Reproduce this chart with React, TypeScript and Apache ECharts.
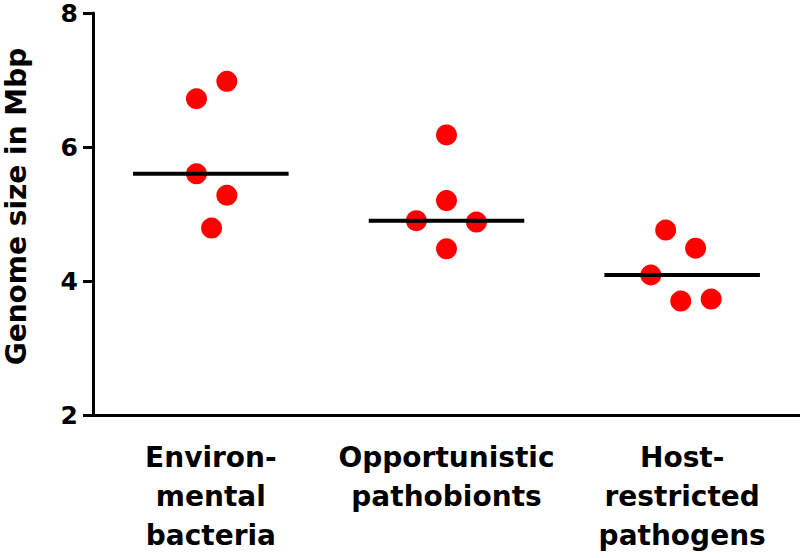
import React, { useEffect, useRef } from "react";
import * as echarts from "echarts";

const categories = ["Environ-\nmental\nbacteria", "Opportunistic\npathobionts", "Host-\nrestricted\npathogens"];
const yTicks = [2, 4, 6, 8];

// genome sizes (Mbp) per group, with horizontal jitter offsets (in category units)
const environmental = [6.98, 6.72, 5.6, 5.28, 4.79];
const environmentalJitter = [0.068, -0.061, -0.061, 0.068, 0.003];
const opportunistic = [6.18, 5.2, 4.9, 4.88, 4.48];
const opportunisticJitter = [0.0, 0.0, -0.128, 0.127, 0.0];
const hostRestricted = [4.76, 4.49, 4.09, 3.7, 3.73];
const hostRestrictedJitter = [-0.07, 0.057, -0.133, -0.006, 0.123];
const medians = [5.6, 4.9, 4.09];

const groups = [
  { values: environmental, jitter: environmentalJitter },
  { values: opportunistic, jitter: opportunisticJitter },
  { values: hostRestricted, jitter: hostRestrictedJitter },
];

const FONT = "DejaVu Sans";

export default function App() {
  const ref = useRef<HTMLDivElement>(null);
  useEffect(() => {
    if (!ref.current) return;
    const chart = echarts.init(ref.current, undefined, { renderer: "svg" });
    const points: number[][] = [];
    groups.forEach((g, i) => {
      g.values.forEach((v, j) => points.push([i + 0.5 + g.jitter[j], v]));
    });
    chart.setOption({
      animation: false,
      backgroundColor: "#ffffff",
      grid: { left: 93, right: 0, top: 13, bottom: 143, containLabel: false, outerBoundsMode: "none" },
      xAxis: [
        {
          type: "category",
          data: categories,
          boundaryGap: true,
          axisLine: { lineStyle: { color: "#000", width: 3 } },
          axisTick: { alignWithLabel: true, length: 10, lineStyle: { color: "#000", width: 3 } },
          axisLabel: {
            color: "#000",
            fontFamily: FONT,
            fontWeight: "bold",
            fontSize: 28,
            lineHeight: 39,
            margin: 23,
            interval: 0,
          },
          splitLine: { show: false },
        },
        { type: "value", min: 0, max: 3, show: false },
      ],
      yAxis: {
        type: "value",
        min: 2,
        max: 8,
        interval: 2,
        name: "Genome size in Mbp",
        nameLocation: "middle",
        nameRotate: 90,
        nameGap: 63,
        nameTextStyle: {
          color: "#000",
          fontFamily: FONT,
          fontWeight: "bold",
          fontSize: 28,
          padding: [0, 0, 0, 15],
        },
        axisLine: { show: true, lineStyle: { color: "#000", width: 3 } },
        axisTick: { show: true, length: 10, lineStyle: { color: "#000", width: 3 } },
        axisLabel: {
          color: "#000",
          fontFamily: FONT,
          fontWeight: "bold",
          fontSize: 25,
          margin: 15,
          formatter: (v: number) => (yTicks.includes(v) ? String(v) : ""),
        },
        splitLine: { show: false },
      },
      series: [
        {
          type: "scatter",
          xAxisIndex: 1,
          data: points,
          symbol: "circle",
          symbolSize: 21,
          itemStyle: { color: "#ff0000", opacity: 1 },
          z: 2,
        },
        {
          type: "custom",
          xAxisIndex: 1,
          data: medians.map((m, i) => [i + 0.5, m]),
          z: 3,
          renderItem: (params: any, api: any) => {
            const cx = api.value(0);
            const m = api.value(1);
            const p1 = api.coord([cx - 0.33, m]);
            const p2 = api.coord([cx + 0.33, m]);
            return {
              type: "line",
              shape: { x1: p1[0], y1: p1[1], x2: p2[0], y2: p2[1] },
              style: { stroke: "#000", lineWidth: 4 },
            };
          },
        },
      ],
    });
    return () => chart.dispose();
  }, []);
  return (
    <div
      ref={ref}
      style={{ position: "fixed", left: 0, top: 0, width: 800, height: 558, background: "#fff" }}
    />
  );
}
